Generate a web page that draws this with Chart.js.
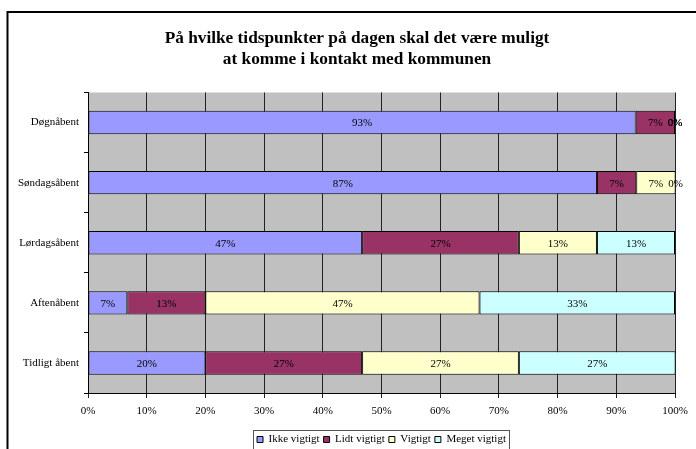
<!DOCTYPE html>
<html>
<head>
<meta charset="utf-8">
<script src="https://cdn.jsdelivr.net/npm/chart.js@4/dist/chart.umd.min.js"></script>
<style>
  html, body { margin: 0; padding: 0; background: #fff; }
  #wrap { width: 696px; height: 449px; }
</style>
</head>
<body>
<div id="wrap"><canvas id="c" width="696" height="449"></canvas></div>
<script>
// Survey answers per opening-hours option, share of respondents (%)
const categories = ['Døgnåbent', 'Søndagsåbent', 'Lørdagsåbent', 'Aftenåbent', 'Tidligt åbent'];
const seriesNames = ['Ikke vigtigt', 'Lidt vigtigt', 'Vigtigt', 'Meget vigtigt'];
const ikkeVigtigt  = [93.3, 86.7, 46.7, 6.7, 20.0];
const lidtVigtigt  = [6.7, 6.7, 26.7, 13.3, 26.7];
const vigtigt      = [0.0, 6.7, 13.3, 46.7, 26.7];
const megetVigtigt = [0.0, 0.0, 13.3, 33.3, 26.7];
const xTicks = [0, 10, 20, 30, 40, 50, 60, 70, 80, 90, 100];
const titleLines = ['På hvilke tidspunkter på dagen skal det være muligt', 'at komme i kontakt med kommunen'];

const seriesColors = ['#9999FF', '#993366', '#FFFFCC', '#CCFFFF'];
const serif = "'Liberation Serif', 'Times New Roman', serif";

Chart.defaults.font.family = serif;
Chart.defaults.font.size = 11;
Chart.defaults.color = '#000';

// gray plot background
const plotBackground = {
  id: 'plotBackground',
  beforeDraw(chart) {
    const { ctx, chartArea: a } = chart;
    ctx.save();
    ctx.fillStyle = '#C0C0C0';
    ctx.fillRect(a.left, a.top, a.right - a.left, a.bottom - a.top);
    ctx.restore();
  }
};

// two-line heading above the plot
const heading = {
  id: 'heading',
  afterDraw(chart) {
    const { ctx } = chart;
    ctx.save();
    ctx.font = 'bold 17.3px ' + serif;
    ctx.fillStyle = '#000';
    ctx.textAlign = 'center';
    ctx.textBaseline = 'middle';
    titleLines.forEach((line, i) => ctx.fillText(line, 357, 39 + i * 21));
    ctx.restore();
  }
};

// percentage labels centred in each bar segment
const segmentLabels = {
  id: 'segmentLabels',
  afterDatasetsDraw(chart) {
    const { ctx } = chart;
    ctx.save();
    ctx.font = '11px ' + serif;
    ctx.fillStyle = '#000';
    ctx.textAlign = 'center';
    ctx.textBaseline = 'middle';
    chart.data.datasets.forEach((ds, di) => {
      chart.getDatasetMeta(di).data.forEach((el, i) => {
        const cx = (el.x + el.base) / 2;
        ctx.fillText(Math.round(ds.data[i]) + '%', cx, el.y + 1);
      });
    });
    ctx.restore();
  }
};

// outer frame and the box round the legend
const frames = {
  id: 'frames',
  afterDraw(chart) {
    const { ctx } = chart;
    ctx.save();
    ctx.strokeStyle = '#000';
    ctx.lineWidth = 2;
    ctx.beginPath();
    ctx.moveTo(696, 12);
    ctx.lineTo(7.5, 12);
    ctx.lineTo(7.5, 449);
    ctx.stroke();
    const boxes = chart.legend.legendHitBoxes;
    if (boxes && boxes.length) {
      const first = boxes[0];
      const last = boxes[boxes.length - 1];
      const l = Math.round(first.left - 4) + 0.5;
      const r = Math.round(last.left + last.width + 3) + 0.5;
      const t = Math.round(first.top - 4) + 0.5;
      ctx.lineWidth = 1;
      ctx.strokeStyle = '#555';
      ctx.strokeRect(l, t, r - l, 40);
    }
    ctx.restore();
  }
};

const datasets = [ikkeVigtigt, lidtVigtigt, vigtigt, megetVigtigt].map((d, i) => ({
  label: seriesNames[i],
  data: d,
  backgroundColor: seriesColors[i],
  borderColor: '#000',
  borderWidth: 1,
  borderSkipped: false,
  barPercentage: 0.39,
  categoryPercentage: 1.0
}));

new Chart(document.getElementById('c'), {
  type: 'bar',
  data: { labels: categories, datasets },
  options: {
    indexAxis: 'y',
    responsive: false,
    animation: false,
    layout: { padding: { top: 92.5, left: 8, right: 21, bottom: 0 } },
    plugins: {
      title: { display: false },
      legend: {
        display: true,
        position: 'bottom',
        fullSize: false,
        maxHeight: 19,
        labels: {
          boxWidth: 6,
          boxHeight: 6,
          padding: 4,
          color: '#000',
          font: { family: serif, size: 11 }
        }
      },
      tooltip: { enabled: false }
    },
    scales: {
      x: {
        stacked: true,
        min: 0,
        max: 100,
        afterBuildTicks(scale) { scale.ticks = xTicks.map(v => ({ value: v })); },
        afterFit(scale) { scale.height = 37; },
        ticks: { padding: 7, callback: v => v + '%', font: { size: 11 } },
        grid: { color: '#222', lineWidth: 1, tickLength: 5, drawOnChartArea: true },
        border: { color: '#000', width: 1 }
      },
      y: {
        stacked: true,
        afterFit(scale) { scale.width = 80; },
        ticks: { padding: 5, font: { size: 11 } },
        grid: { offset: true, drawOnChartArea: false, color: '#000', tickLength: 4 },
        border: { color: '#000', width: 1 }
      }
    }
  },
  plugins: [plotBackground, segmentLabels, heading, frames]
});
</script>
</body>
</html>
